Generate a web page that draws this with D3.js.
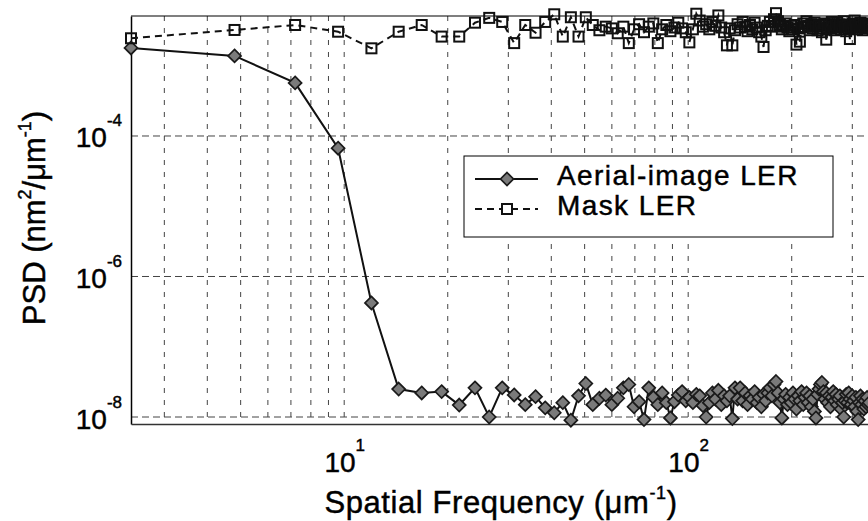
<!DOCTYPE html>
<html><head><meta charset="utf-8">
<script src="https://cdn.jsdelivr.net/npm/d3@7"></script>
<style>
body{margin:0;background:#fff}
svg text{font-family:"Liberation Sans",Arial,Helvetica,sans-serif;fill:#000;stroke:#000;stroke-width:0.45px}
</style>
</head><body>
<svg id="chart" width="868" height="521"></svg>
<script>
// ---- data ----
const frequencies = [
 2.4,4.8,7.2,9.6,12,14.4,16.8,19.2,21.6,24,
 26.4,28.8,31.2,33.6,36,38.4,40.8,43.2,45.6,48,
 50.4,52.8,55.2,57.6,60,62.4,64.8,67.2,69.6,72,
 74.4,76.8,79.2,81.6,84,86.4,88.8,91.2,93.6,96,
 98.4,100.8,103.2,105.6,108,110.4,112.8,115.2,117.6,120,
 122.4,124.8,127.2,129.6,132,134.4,136.8,139.2,141.6,144,
 146.4,148.8,151.2,153.6,156,158.4,160.8,163.2,165.6,168,
 170.4,172.8,175.2,177.6,180,182.4,184.8,187.2,189.6,192,
 194.4,196.8,199.2,201.6,204,206.4,208.8,211.2,213.6,216,
 218.4,220.8,223.2,225.6,228,230.4,232.8,235.2,237.6,240,
 242.4,244.8,247.2,249.6,252,254.4,256.8,259.2,261.6,264,
 266.4,268.8,271.2,273.6,276,278.4,280.8,283.2,285.6,288,
 290.4,292.8,295.2,297.6,300,302.4,304.8,307.2,309.6,312,
 314.4,316.8,319.2,321.6,324,326.4,328.8,331.2,333.6,336
];
const aerialLER = [
 1.79e-3,1.38e-3,5.7e-4,6.7e-5,4.2e-7,2.5e-8,2.2e-8,2.3e-8,1.48e-8,2.6e-8,
 1.0e-8,2.6e-8,2.06e-8,1.5e-8,1.95e-8,1.35e-8,1.15e-8,1.6e-8,0.9e-8,2.0e-8,
 3.0e-8,1.5e-8,1.85e-8,2.05e-8,1.5e-8,1.85e-8,2.6e-8,2.9e-8,1.4e-8,1.65e-8,
 0.92e-8,2.6e-8,1.9e-8,1.5e-8,2.2e-8,1.6e-8,0.97e-8,1.65e-8,2.05e-8,2.3e-8,
 1.7e-8,1.9e-8,1.6e-8,2.1e-8,2.0e-8,1.45e-8,1.0e-8,1.6e-8,2.2e-8,1.8e-8,
 2.4e-8,1.5e-8,2.0e-8,1.7e-8,2.0e-8,0.95e-8,2.6e-8,1.8e-8,2.6e-8,1.7e-8,
 2.2e-8,1.5e-8,2.0e-8,1.8e-8,2.3e-8,1.6e-8,1.9e-8,1.4e-8,2.1e-8,1.7e-8,
 2.2e-8,2.6e-8,2.0e-8,2.9e-8,3.2e-8,2.2e-8,1.6e-8,0.97e-8,1.8e-8,2.1e-8,
 1.5e-8,1.9e-8,1.6e-8,2.2e-8,1.8e-8,1.3e-8,2.0e-8,1.7e-8,2.3e-8,1.5e-8,
 1.9e-8,2.2e-8,1.6e-8,2.0e-8,1.4e-8,1.8e-8,1.2e-8,0.97e-8,2.1e-8,2.5e-8,
 2.9e-8,3.1e-8,2.3e-8,1.8e-8,2.2e-8,1.6e-8,2.0e-8,1.4e-8,1.9e-8,2.3e-8,
 1.7e-8,2.1e-8,1.5e-8,1.8e-8,2.0e-8,1.3e-8,1.6e-8,1.0e-8,1.7e-8,2.1e-8,
 1.6e-8,2.2e-8,1.8e-8,1.5e-8,2.0e-8,1.7e-8,1.4e-8,1.9e-8,1.2e-8,0.92e-8,
 1.6e-8,2.0e-8,1.5e-8,1.8e-8,1.3e-8,1.7e-8,1.4e-8,1.9e-8,1.5e-8,1.6e-8
];
const maskLER = [
 2.46e-3,3.23e-3,3.8e-3,3.05e-3,1.77e-3,3.05e-3,3.8e-3,2.6e-3,2.6e-3,4.1e-3,
 4.8e-3,4.2e-3,2.1e-3,3.8e-3,2.95e-3,4.2e-3,5.4e-3,2.6e-3,4.9e-3,2.6e-3,
 4.9e-3,3.8e-3,3.2e-3,3.6e-3,3.4e-3,2.9e-3,3.6e-3,2.1e-3,3.3e-3,3.9e-3,
 3.0e-3,3.6e-3,4.0e-3,2.1e-3,3.3e-3,3.8e-3,3.1e-3,3.5e-3,4.1e-3,3.4e-3,
 3.0e-3,2.15e-3,3.3e-3,5.5e-3,4.4e-3,3.6e-3,3.9e-3,3.3e-3,4.2e-3,3.7e-3,
 5.2e-3,3.5e-3,3.0e-3,1.95e-3,3.4e-3,1.95e-3,3.2e-3,3.9e-3,3.5e-3,4.2e-3,
 3.6e-3,3.1e-3,3.8e-3,3.3e-3,4.1e-3,3.5e-3,3.0e-3,2.6e-3,1.85e-3,3.2e-3,
 3.7e-3,4.2e-3,3.6e-3,4.6e-3,5.6e-3,4.3e-3,3.8e-3,3.3e-3,3.6e-3,4.0e-3,
 3.5e-3,3.1e-3,3.7e-3,3.3e-3,3.8e-3,2.0e-3,3.4e-3,2.2e-3,3.5e-3,4.0e-3,
 3.6e-3,4.3e-3,3.7e-3,3.2e-3,3.9e-3,3.4e-3,4.1e-3,3.6e-3,3.2e-3,3.8e-3,
 3.4e-3,3.0e-3,3.7e-3,4.0e-3,2.35e-3,3.5e-3,3.9e-3,3.4e-3,4.2e-3,3.6e-3,
 3.2e-3,3.8e-3,4.1e-3,3.5e-3,3.9e-3,3.3e-3,3.7e-3,4.3e-3,3.6e-3,3.1e-3,
 3.8e-3,3.4e-3,2.4e-3,3.5e-3,4.0e-3,3.6e-3,4.4e-3,3.7e-3,3.3e-3,3.9e-3,
 3.5e-3,4.1e-3,3.6e-3,3.2e-3,3.8e-3,3.4e-3,4.0e-3,3.6e-3,3.9e-3,3.5e-3
];
const xTickValues = [10, 100];
const xTickExponents = ["1", "2"];
const xGridValues = [3,4,5,6,7,8,9,10,20,30,40,50,60,70,80,90,100,200,300];
const yTickValues = [1e-4, 1e-6, 1e-8];
const yTickExponents = ["-4", "-6", "-8"];
const seriesNames = ["Aerial-image LER", "Mask LER"];

// ---- layout ----
const L = 131, R = 871, T = 16, B = 424;
const svg = d3.select("#chart");
const x = d3.scaleLog().domain([2.4, 340]).range([L, R]);
const y = d3.scaleLog().domain([Math.pow(10, -8.0996), Math.pow(10, -2.292)]).range([B, T]);

// grid
svg.append("g").selectAll("line").data(xGridValues).join("line")
  .attr("x1", d => x(d)).attr("x2", d => x(d)).attr("y1", T).attr("y2", B)
  .attr("stroke", "#444").attr("stroke-width", 1).attr("stroke-dasharray", "5,7");
svg.append("g").selectAll("line").data(yTickValues).join("line")
  .attr("x1", L).attr("x2", R).attr("y1", d => y(d)).attr("y2", d => y(d))
  .attr("stroke", "#444").attr("stroke-width", 1).attr("stroke-dasharray", "7,4");

// axes
const yAxis = svg.append("g").attr("transform", `translate(${L},0)`)
  .call(d3.axisLeft(y).tickValues(yTickValues).tickSize(0).tickSizeOuter(0).tickPadding(9));
yAxis.select(".domain").attr("stroke", "#000").attr("stroke-width", 1.5);
yAxis.selectAll(".tick text").each(function(d, i) {
  const t = d3.select(this).text(null).attr("dy", null).attr("y", 11)
    .attr("font-size", 28).attr("text-anchor", "end").attr("fill", "#000");
  t.append("tspan").text("10");
  t.append("tspan").attr("font-size", 17).attr("dy", -21).text(yTickExponents[i]);
});

const xAxis = svg.append("g").attr("transform", `translate(0,${B})`)
  .call(d3.axisBottom(x).tickValues(xTickValues).tickSize(0).tickSizeOuter(0).tickPadding(0));
xAxis.select(".domain").attr("stroke", "#333").attr("stroke-width", 1.5);
xAxis.selectAll(".tick text").each(function(d, i) {
  const t = d3.select(this).text(null).attr("dy", null).attr("y", 48)
    .attr("font-size", 28).attr("text-anchor", "middle").attr("fill", "#000");
  t.append("tspan").text("10");
  t.append("tspan").attr("font-size", 17).attr("dy", -21).text(xTickExponents[i]);
});

// top border
svg.append("line").attr("x1", L).attr("x2", R).attr("y1", T).attr("y2", T)
  .attr("stroke", "#000").attr("stroke-width", 1.2);

// axis titles
const xt = svg.append("text").attr("x", 501).attr("y", 513).attr("text-anchor", "middle")
  .attr("font-size", 31).attr("letter-spacing", 0.6);
xt.append("tspan").text("Spatial Frequency (\u03BCm");
xt.append("tspan").attr("font-size", 18).attr("dy", -14).text("-1");
xt.append("tspan").attr("dy", 14).text(")");

const yt = svg.append("text").attr("transform", "translate(45,218) rotate(-90)")
  .attr("text-anchor", "middle").attr("font-size", 31);
yt.append("tspan").text("PSD (nm");
yt.append("tspan").attr("font-size", 18).attr("dy", -14).text("2");
yt.append("tspan").attr("dy", 14).text("/\u03BCm");
yt.append("tspan").attr("font-size", 18).attr("dy", -14).text("-1");
yt.append("tspan").attr("dy", 14).text(")");

// series
const aerialData = frequencies.map((f, i) => [f, aerialLER[i]]);
const maskData = frequencies.map((f, i) => [f, maskLER[i]]);
const line = d3.line().x(d => x(d[0])).y(d => y(d[1]));
const diamond = "M0,-6.5L6.5,0L0,6.5L-6.5,0Z";

svg.append("path").datum(aerialData).attr("d", line)
  .attr("fill", "none").attr("stroke", "#111").attr("stroke-width", 2);
svg.append("g").selectAll("path").data(aerialData).join("path")
  .attr("d", diamond).attr("transform", d => `translate(${x(d[0])},${y(d[1])})`)
  .attr("fill", "#7a7a7a").attr("stroke", "#1a1a1a").attr("stroke-width", 1.7);

svg.append("path").datum(maskData).attr("d", line)
  .attr("fill", "none").attr("stroke", "#111").attr("stroke-width", 2).attr("stroke-dasharray", "7,5");
svg.append("g").selectAll("rect").data(maskData).join("rect")
  .attr("x", d => x(d[0]) - 5).attr("y", d => y(d[1]) - 5).attr("width", 10).attr("height", 10)
  .attr("fill", "none").attr("stroke", "#111").attr("stroke-width", 2);

// legend
const lg = svg.append("g");
lg.append("rect").attr("x", 464).attr("y", 156).attr("width", 369).attr("height", 81)
  .attr("fill", "#fff").attr("stroke", "#000").attr("stroke-width", 1);
const rows = [{y: 179, dash: null}, {y: 209, dash: "7,5"}];
rows.forEach((r, i) => {
  lg.append("line").attr("x1", 475).attr("x2", 538).attr("y1", r.y).attr("y2", r.y)
    .attr("stroke", "#111").attr("stroke-width", 2).attr("stroke-dasharray", r.dash);
  if (i === 0) {
    lg.append("path").attr("d", diamond).attr("transform", `translate(507,${r.y})`)
      .attr("fill", "#7a7a7a").attr("stroke", "#1a1a1a").attr("stroke-width", 1.7);
  } else {
    lg.append("rect").attr("x", 502).attr("y", r.y - 5).attr("width", 10).attr("height", 10)
      .attr("fill", "#fff").attr("stroke", "#111").attr("stroke-width", 2);
  }
  lg.append("text").attr("x", 557).attr("y", r.y + 6).attr("font-size", 28)
    .attr("letter-spacing", 1.4).text(seriesNames[i]);
});
</script>
</body></html>
